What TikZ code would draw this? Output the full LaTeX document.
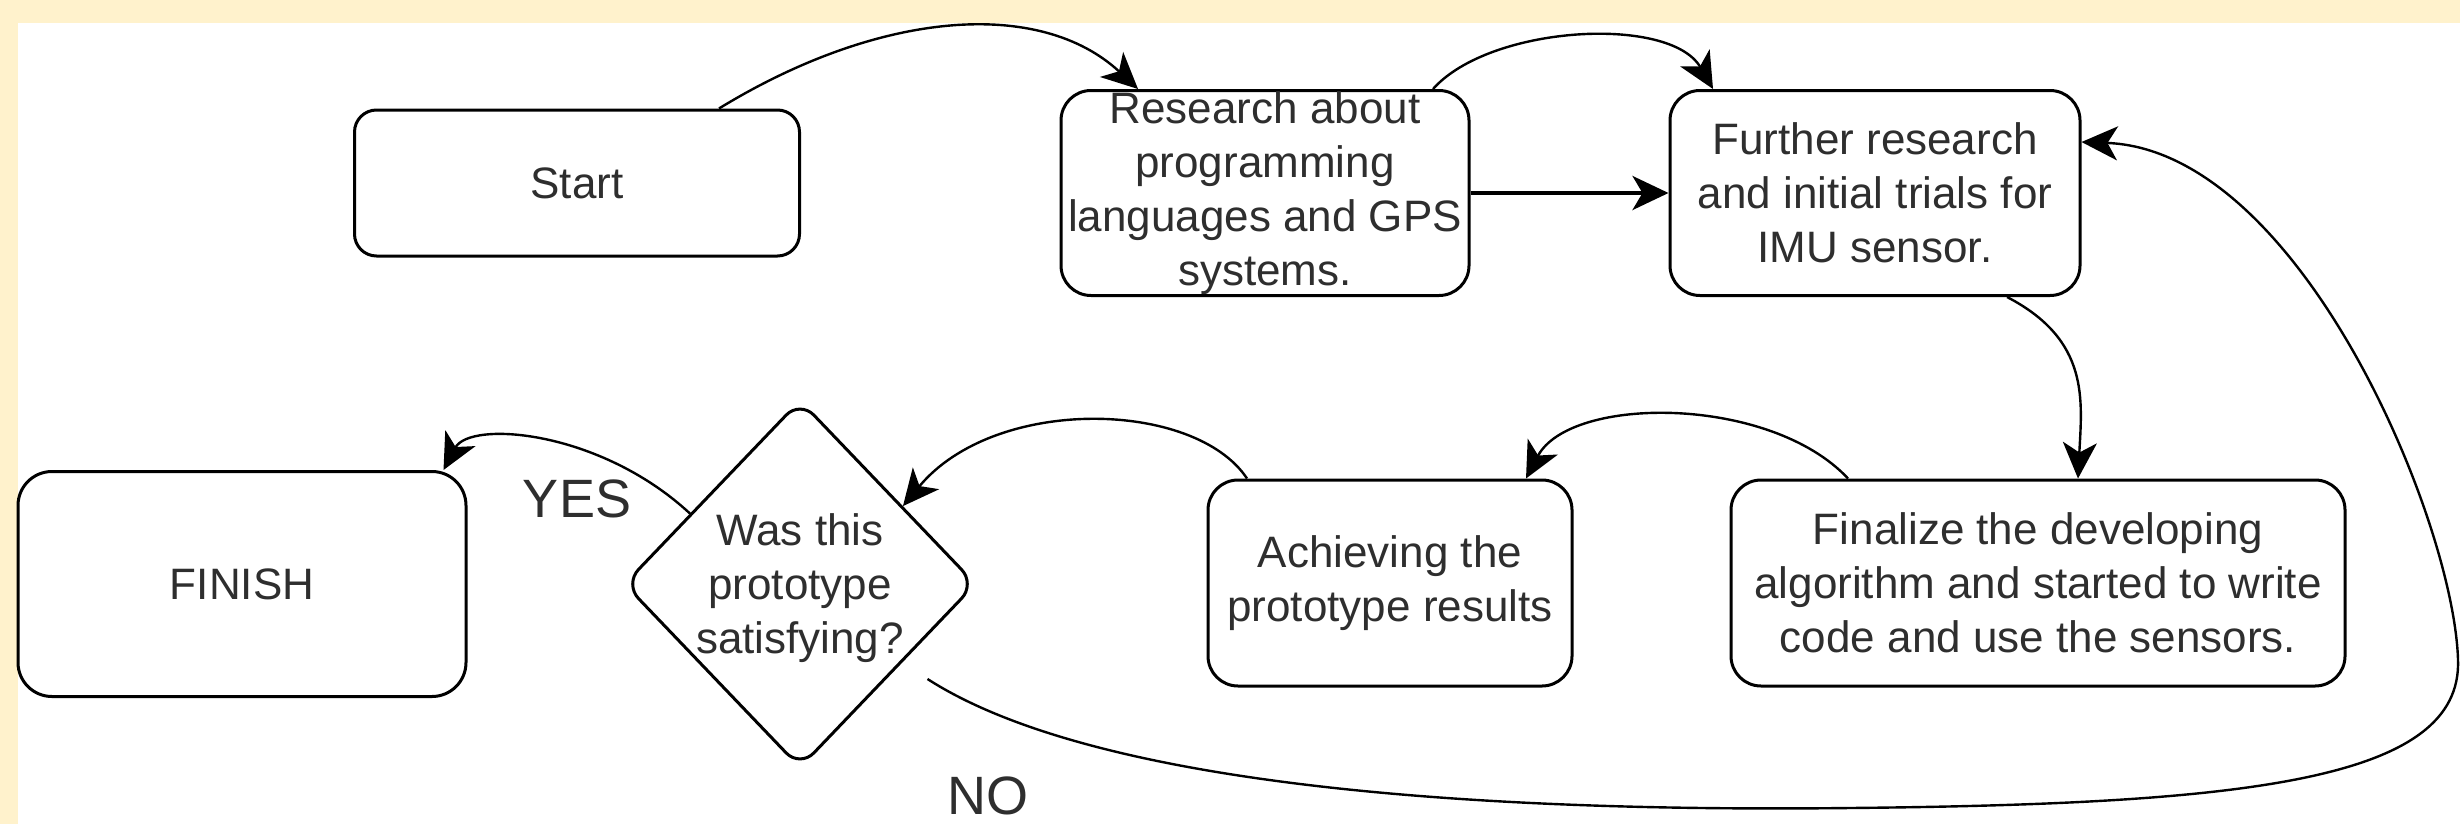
\documentclass[tikz,border=0pt]{standalone}
\usepackage{fontspec}
\setmainfont{Liberation Sans}
\usetikzlibrary{arrows.meta,shapes.geometric,calc}
\definecolor{cream}{HTML}{FFF2CC}
\definecolor{ink}{HTML}{2E2E2E}
\begin{document}
\begin{tikzpicture}[x=0.25pt,y=-0.25pt,
  box/.style={draw=black, line width=0.75pt, rounded corners=7.5pt, fill=white,
    inner sep=0pt, align=center, text=ink, font=\fontsize{11pt}{13.5pt}\selectfont},
  decision/.style={draw=black, line width=0.75pt, shape=diamond, rounded corners=5pt,
    inner sep=0pt, fill=white, minimum width=88pt, minimum height=92pt},
  qtext/.style={inner sep=0pt, align=center, text=ink, font=\fontsize{11pt}{13.5pt}\selectfont},
  conn/.style={line width=0.6pt, -{Stealth[length=9pt,width=8.5pt,inset=2.5pt]}},
  lbl/.style={text=ink, font=\fontsize{13.5pt}{16pt}\selectfont, inner sep=0pt}
]
\useasboundingbox (0,0) rectangle (2460,824);
\fill[cream] (0,0) rectangle (2460,824);
\fill[white] (17.5,23) rectangle (2460,824);

% nodes
\node[box, rounded corners=5.5pt, minimum width=111.25pt, minimum height=36.5pt] (start) at (577,183) {Start};
\node[box, minimum width=102pt, minimum height=51.25pt] (research) at (1265,193)
  {Research about\\programming\\languages and GPS\\systems.};
\node[box, minimum width=102.5pt, minimum height=51.25pt] (further) at (1875,193)
  {Further research\\and initial trials for\\IMU sensor.};
\node[box, rounded corners=8.5pt, minimum width=112pt, minimum height=56.25pt] (finish) at (242,584) {FINISH};
\node[decision] (q) at (800,584) {};
\node[qtext] (qt) at (800,588) {Was this\\prototype\\satisfying?};
\node[box, minimum width=91pt, minimum height=51.5pt] (achieve) at (1390,583)
  {Achieving the\\prototype results};
\node[box, minimum width=153.5pt, minimum height=51.5pt] (final) at (2038,583)
  {Finalize the developing\\algorithm and started to write\\code and use the sensors.};

% connectors
\draw[conn] ($(start.north)+(142,0)$) .. controls (880,10) and (1040,-2) .. ($(research.north)+(-127,0)$);
\draw[conn] ($(research.north)+(168,0)$) .. controls (1490,25) and (1670,15) .. ($(further.north)+(-162,0)$);
\draw[conn, line width=1pt] (research.east) -- (further.west);
\draw[conn] ($(further.south)+(132,0)$) .. controls (2090,340) and (2082,400) .. ($(final.north)+(40,0)$);
\draw[conn] ($(final.north)+(-190,0)$) .. controls (1770,395) and (1570,395) .. ($(achieve.north)+(136,0)$);
\draw[conn] ($(achieve.north)+(-143,0)$) .. controls (1195,400) and (995,395) .. ($(q.north)!0.58!(q.east)$);
\draw[conn] ($(q.north)!0.62!(q.west)$) .. controls (600,430) and (470,420) .. ($(finish.north east)+(-24,0)$);
\draw[conn] ($(q.east)+(-50,95)$) .. controls (1100,790) and (1500,812) .. (1850,808)
  .. controls (2250,804) and (2462,780) .. (2458,660)
  .. controls (2454,520) and (2300,150) .. ($(further.east)+(0,-51)$);

% labels
\node[lbl] (yes) at (577,499) {YES};
\node[lbl] (no) at (988,796) {NO};
\end{tikzpicture}
\end{document}
